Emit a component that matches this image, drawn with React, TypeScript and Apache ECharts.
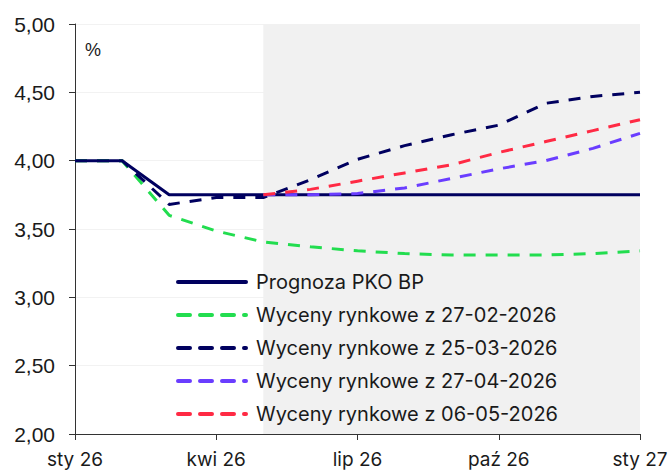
import React, { useEffect, useRef } from "react";
import * as echarts from "echarts";

const months = ["sty 26", "lut 26", "mar 26", "kwi 26", "maj 26", "cze 26", "lip 26", "sie 26", "wrz 26", "paź 26", "lis 26", "gru 26", "sty 27"];
const pkoForecast = [4.0, 4.0, 3.75, 3.75, 3.75, 3.75, 3.75, 3.75, 3.75, 3.75, 3.75, 3.75, 3.75];
const wyceny2702 = [4.0, 4.0, 3.6, 3.485, 3.405, 3.37, 3.34, 3.32, 3.31, 3.31, 3.31, 3.32, 3.34];
const wyceny2503 = [4.0, 4.0, 3.68, 3.73, 3.73, 3.86, 4.01, 4.11, 4.19, 4.26, 4.42, 4.47, 4.5];
const wyceny2704 = [null, null, null, null, 3.75, 3.75, 3.76, 3.8, 3.87, 3.94, 4.0, 4.09, 4.2];
const wyceny0605 = [null, null, null, null, 3.75, 3.79, 3.85, 3.91, 3.97, 4.06, 4.14, 4.22, 4.3];
const seriesNames = [
  "Prognoza PKO BP",
  "Wyceny rynkowe z 27-02-2026",
  "Wyceny rynkowe z 25-03-2026",
  "Wyceny rynkowe z 27-04-2026",
  "Wyceny rynkowe z 06-05-2026",
];
const forecastStart = "maj 26";
const forecastEnd = "sty 27";

export default function App() {
  const ref = useRef<HTMLDivElement>(null);
  useEffect(() => {
    document.body.style.margin = "0";
    if (!ref.current) return;
    const chart = echarts.init(ref.current, null, { renderer: "svg" });
    const dash = [12, 10];
    const mk = (name: string, data: any[], color: string, dashed: boolean, extra: any = {}) => ({
      name,
      type: "line",
      data,
      symbol: "none",
      connectNulls: false,
      lineStyle: { color, width: 3, type: dashed ? dash : "solid", cap: "butt" },
      itemStyle: { color },
      ...extra,
    });
    chart.setOption({
      animation: false,
      grid: { left: 75, right: 31, top: 24, bottom: 36, containLabel: false },
      legend: {
        orient: "vertical",
        left: 171,
        top: 267,
        itemWidth: 68,
        itemHeight: 14,
        itemGap: 13,
        itemStyle: { opacity: 0 },
        lineStyle: { width: 4, cap: "round" },
        data: seriesNames,
        textStyle: { fontFamily: "Inter", fontSize: 20, color: "#1a1a1a", lineHeight: 20, padding: [0, 0, 0, 5] },
      },
      graphic: [
        {
          type: "text",
          left: 85,
          top: 41,
          style: { text: "%", font: "18px 'Liberation Sans'", fill: "#1a1a1a" },
        },
      ],
      xAxis: {
        type: "category",
        data: months,
        boundaryGap: false,
        axisLine: { lineStyle: { color: "#333", width: 1 } },
        axisTick: { show: true, interval: 2, length: 6, lineStyle: { color: "#333" } },
        axisLabel: {
          interval: 2,
          margin: 16,
          fontFamily: "Inter",
          fontSize: 19,
          color: "#1a1a1a",
        },
        splitLine: { show: false },
      },
      yAxis: {
        type: "value",
        min: 2,
        max: 5,
        interval: 0.5,
        axisLine: { show: true, lineStyle: { color: "#333", width: 1 } },
        axisTick: { show: true, length: 6, inside: false, lineStyle: { color: "#333" } },
        axisLabel: {
          margin: 20,
          fontFamily: "Liberation Sans",
          fontSize: 21,
          color: "#1a1a1a",
          formatter: (v: number) => v.toFixed(2).replace(".", ","),
        },
        splitLine: { show: true, lineStyle: { color: "#f2f2f2", width: 1 } },
      },
      series: [
        mk(seriesNames[0], pkoForecast, "#00005f", false, {
          markArea: {
            silent: true,
            itemStyle: { color: "#f1f1f1" },
            data: [[{ xAxis: forecastStart }, { xAxis: forecastEnd }]],
          },
          z: 2,
        }),
        mk(seriesNames[1], wyceny2702, "#22dd4f", true, { z: 3 }),
        mk(seriesNames[2], wyceny2503, "#00005f", true, { z: 3 }),
        mk(seriesNames[3], wyceny2704, "#6a3dff", true, { z: 3 }),
        mk(seriesNames[4], wyceny0605, "#ff2a44", true, { z: 3 }),
      ],
    });
    return () => chart.dispose();
  }, []);
  return <div ref={ref} style={{ width: 671, height: 470 }} />;
}
